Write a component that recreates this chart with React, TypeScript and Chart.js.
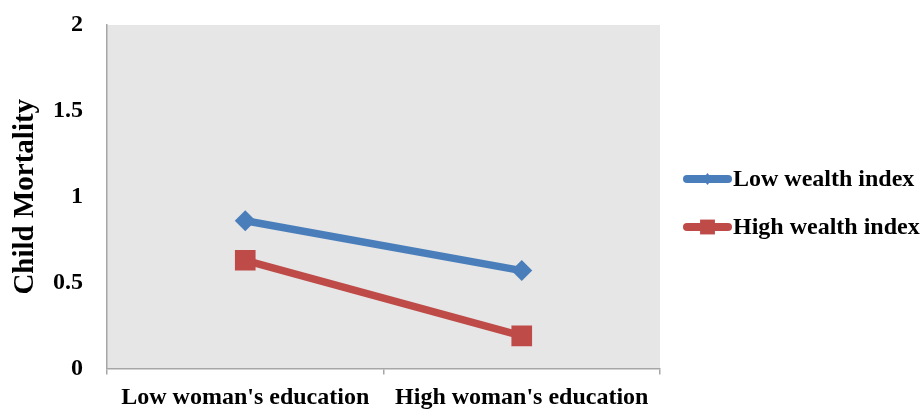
import React, { useEffect, useRef } from "react";
import { Chart, registerables } from "chart.js";

Chart.register(...registerables);

const categories = ["Low woman's education", "High woman's education"];
const lowWealth = [0.86, 0.57];
const highWealth = [0.63, 0.19];
const seriesNames = ["Low wealth index", "High wealth index"];
const yTicks = [0, 0.5, 1, 1.5, 2];

const BLUE = "#4a7ebb";
const RED = "#be4b48";
const AXIS = "#a6a6a6";
const FONT = "'Liberation Serif', 'Times New Roman', serif";

const bgPlugin = {
  id: "plotBg",
  beforeDraw(chart: any) {
    const { ctx, chartArea } = chart;
    ctx.save();
    ctx.fillStyle = "#e6e6e6";
    ctx.fillRect(chartArea.left, chartArea.top, chartArea.right - chartArea.left, chartArea.bottom - chartArea.top);
    ctx.restore();
  },
};

const legendPlugin = {
  id: "customLegend",
  afterDraw(chart: any) {
    const { ctx } = chart;
    const items = [
      { label: seriesNames[0], color: BLUE, style: "rectRot", r: 6, y: 179 },
      { label: seriesNames[1], color: RED, style: "rect", r: 10.5, y: 227 },
    ];
    ctx.save();
    items.forEach((it) => {
      ctx.strokeStyle = it.color;
      ctx.lineWidth = 8;
      ctx.lineCap = "round";
      ctx.beginPath();
      ctx.moveTo(687, it.y);
      ctx.lineTo(728, it.y);
      ctx.stroke();
      ctx.fillStyle = it.color;
      ctx.beginPath();
      if (it.style === "rect") {
        const s = it.r * Math.SQRT1_2;
        ctx.rect(707.5 - s, it.y - s, 2 * s, 2 * s);
      } else {
        ctx.moveTo(707.5, it.y - it.r);
        ctx.lineTo(707.5 + it.r * 0.8, it.y);
        ctx.lineTo(707.5, it.y + it.r);
        ctx.lineTo(707.5 - it.r * 0.8, it.y);
        ctx.closePath();
      }
      ctx.fill();
      ctx.fillStyle = "#000";
      ctx.font = `bold 24px ${FONT}`;
      ctx.textBaseline = "middle";
      ctx.textAlign = "left";
      ctx.fillText(it.label, 733, it.y + 1);
    });
    ctx.restore();
  },
};

export default function App() {
  const ref = useRef<HTMLCanvasElement>(null);
  useEffect(() => {
    document.body.style.margin = "0";
    const chart = new Chart(ref.current!, {
      type: "line",
      data: {
        labels: categories,
        datasets: [
          {
            label: seriesNames[0],
            data: lowWealth,
            borderColor: BLUE,
            backgroundColor: BLUE,
            borderWidth: 7.5,
            pointStyle: "rectRot",
            pointRadius: 10.5,
            pointBorderWidth: 0,
            pointHoverRadius: 10.5,
          },
          {
            label: seriesNames[1],
            data: highWealth,
            borderColor: RED,
            backgroundColor: RED,
            borderWidth: 7.5,
            pointStyle: "rect",
            pointRadius: 14.6,
            pointBorderWidth: 0,
            pointHoverRadius: 14.6,
          },
        ],
      },
      options: {
        animation: false,
        responsive: false,
        maintainAspectRatio: false,
        layout: { padding: { left: 0, right: 261, top: 25, bottom: 0 } },
        plugins: { legend: { display: false }, tooltip: { enabled: false } },
        scales: {
          x: {
            offset: true,
            grid: {
              display: true,
              drawOnChartArea: false,
              drawTicks: true,
              tickLength: 6,
              offset: true,
              color: AXIS,
              lineWidth: 1.5,
            },
            border: { display: true, color: AXIS, width: 1.5 },
            ticks: {
              color: "#000",
              font: { family: FONT, size: 24, weight: "bold" },
              padding: 9,
              maxRotation: 0,
              autoSkip: false,
            },
            afterFit: (s: any) => {
              s.height = 40.5;
              s.paddingLeft = 0;
              s.paddingRight = 0;
            },
          },
          y: {
            min: 0,
            max: 2,
            afterBuildTicks: (s: any) => {
              s.ticks = yTicks.map((v) => ({ value: v }));
            },
            grid: { display: false },
            border: { display: true, color: AXIS, width: 1.5 },
            ticks: {
              color: "#000",
              font: { family: FONT, size: 24, weight: "bold" },
              padding: 16,
              callback: (v: any) => String(v),
            },
            title: {
              display: true,
              text: "Child Mortality",
              color: "#000",
              font: { family: FONT, size: 29, weight: "bold" },
              padding: { top: 8, bottom: 0 },
            },
            afterFit: (s: any) => {
              s.width = 107;
              s.paddingTop = 0;
              s.paddingBottom = 0;
            },
          },
        },
      },
      plugins: [bgPlugin, legendPlugin],
    });
    return () => chart.destroy();
  }, []);
  return (
    <div style={{ position: "fixed", left: 0, top: 0, width: 921, height: 409, background: "#fff" }}>
      <canvas ref={ref} width={921} height={409} style={{ width: 921, height: 409 }} />
    </div>
  );
}
